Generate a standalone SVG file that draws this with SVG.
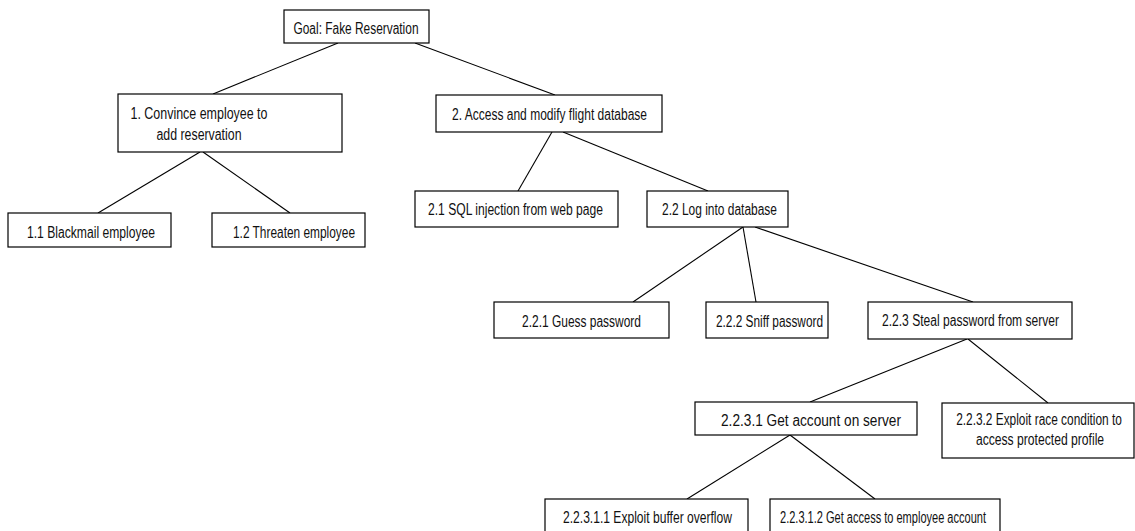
<svg xmlns="http://www.w3.org/2000/svg" width="1135" height="531" viewBox="0 0 1135 531">
<style>
.box{fill:#fff;stroke:#000;stroke-width:1.2}
.t{font-family:"Liberation Sans Narrow","Liberation Sans",Arial,sans-serif;font-size:16px;fill:#111;text-anchor:middle}
.s{font-family:"Liberation Sans",Arial,sans-serif}
.c line{stroke:#000;stroke-width:1.1}
</style>
<rect width="1135" height="531" fill="#fff"/>
<g class="c" id="connectors">
<line x1="338" y1="43" x2="213" y2="94"/>
<line x1="415" y1="43" x2="555" y2="95"/>
<line x1="200" y1="152" x2="98" y2="213"/>
<line x1="203" y1="152" x2="290" y2="213"/>
<line x1="552" y1="132" x2="518" y2="191"/>
<line x1="563" y1="132" x2="708" y2="191"/>
<line x1="743" y1="227" x2="633" y2="302"/>
<line x1="743" y1="227" x2="756" y2="302"/>
<line x1="755" y1="227" x2="973" y2="302"/>
<line x1="967" y1="339" x2="810" y2="402"/>
<line x1="968" y1="339" x2="1048" y2="403"/>
<line x1="790" y1="435" x2="687" y2="499"/>
<line x1="790" y1="435" x2="875" y2="499"/>
</g>
<g id="goal"><rect class="box" x="284" y="10" width="145" height="33"/><text class="t" x="356" y="34" textLength="125" lengthAdjust="spacingAndGlyphs">Goal: Fake Reservation</text></g>
<g id="n1"><rect class="box" x="118" y="94" width="224" height="58"/><text class="t" x="199" y="119" textLength="137" lengthAdjust="spacingAndGlyphs">1. Convince employee to</text><text class="t" x="199" y="140" textLength="85" lengthAdjust="spacingAndGlyphs">add reservation</text></g>
<g id="n1_1"><rect class="box" x="8" y="213" width="163" height="34"/><text class="t" x="91" y="238" textLength="128" lengthAdjust="spacingAndGlyphs">1.1 Blackmail employee</text></g>
<g id="n1_2"><rect class="box" x="212" y="213" width="153" height="34"/><text class="t" x="294" y="238" textLength="122" lengthAdjust="spacingAndGlyphs">1.2 Threaten employee</text></g>
<g id="n2"><rect class="box" x="436" y="95" width="226" height="37"/><text class="t" x="549.5" y="120" textLength="195" lengthAdjust="spacingAndGlyphs">2. Access and modify flight database</text></g>
<g id="n2_1"><rect class="box" x="415" y="191" width="203" height="36"/><text class="t" x="515.5" y="215" textLength="175" lengthAdjust="spacingAndGlyphs">2.1 SQL injection from web page</text></g>
<g id="n2_2"><rect class="box" x="647" y="191" width="141" height="36"/><text class="t" x="719.5" y="215" textLength="115" lengthAdjust="spacingAndGlyphs">2.2 Log into database</text></g>
<g id="n2_2_1"><rect class="box" x="494" y="302" width="175" height="36"/><text class="t" x="581.5" y="327" textLength="119" lengthAdjust="spacingAndGlyphs">2.2.1 Guess password</text></g>
<g id="n2_2_2"><rect class="box" x="706" y="302" width="122" height="36"/><text class="t" x="769.5" y="327" textLength="107" lengthAdjust="spacingAndGlyphs">2.2.2 Sniff password</text></g>
<g id="n2_2_3"><rect class="box" x="868" y="302" width="204" height="37"/><text class="t" x="970.5" y="326" textLength="177" lengthAdjust="spacingAndGlyphs">2.2.3 Steal password from server</text></g>
<g id="n2_2_3_1"><rect class="box" x="695" y="402" width="222" height="33"/><text class="t" x="811" y="426" textLength="180" lengthAdjust="spacingAndGlyphs">2.2.3.1 Get account on server</text></g>
<g id="n2_2_3_2"><rect class="box" x="942" y="403" width="192" height="55"/><text class="t s" transform="translate(1039,425) scale(0.75,1)" x="0" y="0" textLength="221" lengthAdjust="spacingAndGlyphs">2.2.3.2 Exploit race condition to</text><text class="t s" transform="translate(1040,445) scale(0.75,1)" x="0" y="0" textLength="171" lengthAdjust="spacingAndGlyphs">access protected profile</text></g>
<g id="n2_2_3_1_1"><rect class="box" x="545" y="499" width="203" height="36"/><text class="t" x="647.5" y="523" textLength="169" lengthAdjust="spacingAndGlyphs">2.2.3.1.1 Exploit buffer overflow</text></g>
<g id="n2_2_3_1_2"><rect class="box" x="770" y="499" width="230" height="36"/><text class="t" x="883" y="523" textLength="206" lengthAdjust="spacingAndGlyphs">2.2.3.1.2 Get access to employee account</text></g>
</svg>
